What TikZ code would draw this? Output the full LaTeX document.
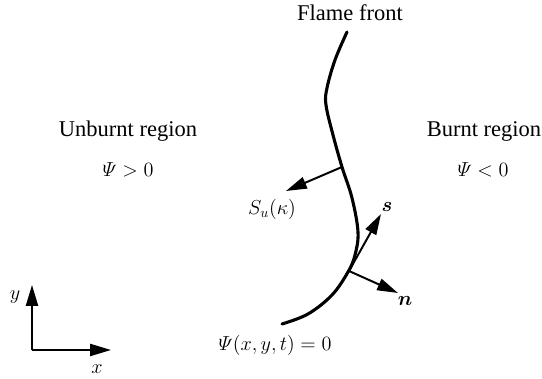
\documentclass[tikz,border=0pt]{standalone}
\usepackage{amsmath,amssymb}
\usepackage{fontspec}
\setmainfont{Liberation Serif}
\usepackage{tikz}
\usetikzlibrary{arrows.meta,positioning}

\begin{document}
\begin{tikzpicture}[
    x=0.025cm, y=-0.025cm,
    >={Triangle[length=5.2mm, width=3mm]},
    front/.style={line width=2.2pt, line cap=round},
    vec/.style={->, line width=1.4pt},
    lbl/.style={font=\fontsize{16}{19}\selectfont, inner sep=1pt},
    mlbl/.style={font=\fontsize{14.5}{17}\selectfont, inner sep=1pt},
]
\useasboundingbox (0,0) rectangle (542,379);

% --- Flame front curve ---
\draw[front] plot[smooth, tension=0.6] coordinates {
    (347,32) (335,60) (327,88) (326,105) (333,135) (342,167)
    (352,198) (358,232) (355,255) (348,272) (332,295) (308,314) (282,324)};
\node[lbl] (title) at (350,13) {Flame front};

% --- Points on the front ---
\coordinate (pS) at (342,167);
\coordinate (pN) at (349,271);
\coordinate (tS) at (286,191);
\coordinate (ts) at (381,214);
\coordinate (tn) at (398,293);

% --- Vectors ---
\draw[vec] (pS) -- (tS);
\draw[vec] (pN) -- (ts);
\draw[vec] (pN) -- (tn);
\node[mlbl] (Su) at (272,209) {$S_u(\kappa)$};
\node[mlbl] (s) at (387,207) {$\boldsymbol{s}$};
\node[mlbl] (n) at (405,301) {$\boldsymbol{n}$};
\node[mlbl] (psi0) at (275,345) {$\varPsi(x,y,t)=0$};

% --- Regions ---
\node[lbl] (unburnt) at (128,131) {Unburnt region};
\node[mlbl] (pos) at (128,170) {$\varPsi>0$};
\node[lbl] (burnt) at (484,131) {Burnt region};
\node[mlbl] (neg) at (483,170) {$\varPsi<0$};

% --- Axes ---
\coordinate (O) at (32,350);
\coordinate (xe) at (111,350);
\coordinate (ye) at (32,285);
\draw[vec] (O) -- (xe);
\draw[vec] (O) -- (ye);
\node[mlbl] (xl) at (97,369) {$x$};
\node[mlbl] (yl) at (15,297) {$y$};

\end{tikzpicture}
\end{document}
